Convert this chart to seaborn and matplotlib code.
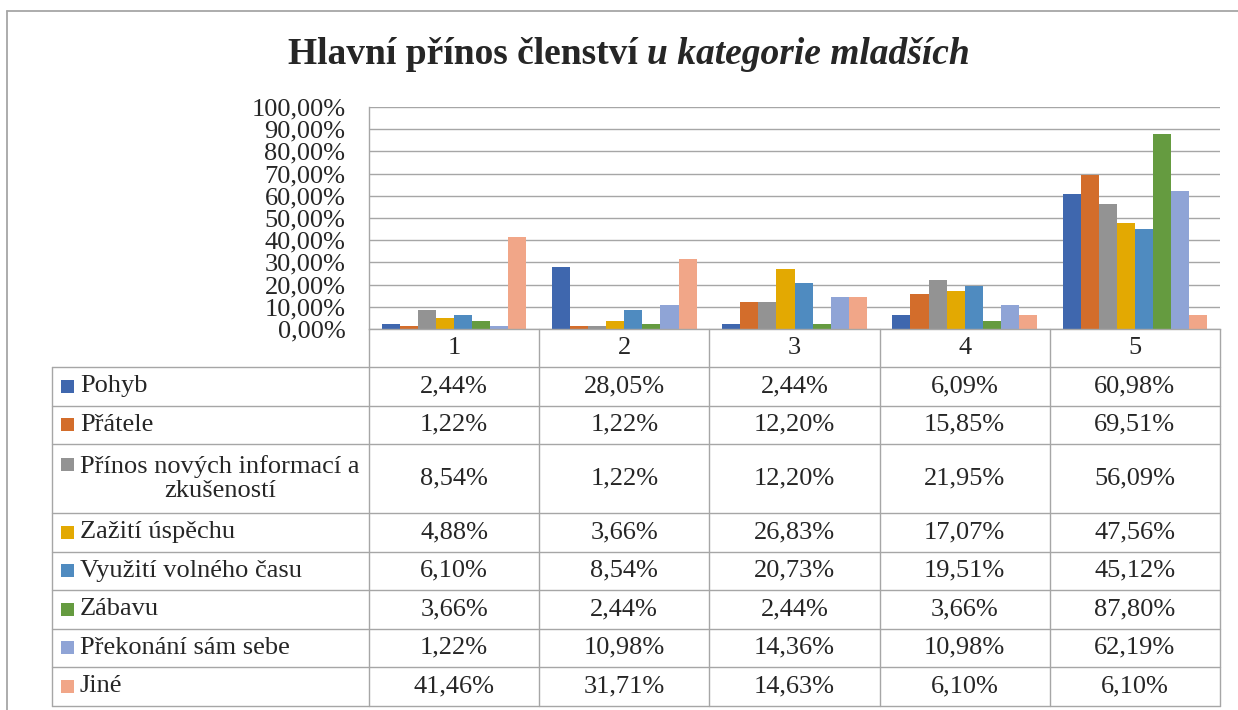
import numpy as np
import pandas as pd
import seaborn as sns
import matplotlib
matplotlib.use("Agg")
import matplotlib.pyplot as plt
from matplotlib.lines import Line2D
from matplotlib.patches import Rectangle
from matplotlib.transforms import blended_transform_factory

# ---------------- data ----------------
categories = ["1", "2", "3", "4", "5"]
series_names = [
    "Pohyb",
    "Přátele",
    "Přínos nových informací a\nzkušeností",
    "Zažití úspěchu",
    "Využití volného času",
    "Zábavu",
    "Překonání sám sebe",
    "Jiné",
]
pohyb = [2.44, 28.05, 2.44, 6.09, 60.98]
pratele = [1.22, 1.22, 12.20, 15.85, 69.51]
prinos = [8.54, 1.22, 12.20, 21.95, 56.09]
zaziti = [4.88, 3.66, 26.83, 17.07, 47.56]
vyuziti = [6.10, 8.54, 20.73, 19.51, 45.12]
zabavu = [3.66, 2.44, 2.44, 3.66, 87.80]
prekonani = [1.22, 10.98, 14.36, 10.98, 62.19]
jine = [41.46, 31.71, 14.63, 6.10, 6.10]
series_values = [pohyb, pratele, prinos, zaziti, vyuziti, zabavu, prekonani, jine]
y_ticks = [0, 10, 20, 30, 40, 50, 60, 70, 80, 90, 100]

colors = ["#3F67AE", "#D36D2B", "#939393", "#E3A902",
          "#4F8BC0", "#659B40", "#8FA4D6", "#F1A688"]
grid_col = "#A6A6A6"

# ---------------- setup ----------------
sns.set_theme(style="white")
plt.rcParams["font.family"] = ["Liberation Serif", "DejaVu Serif"]

W, H = 1238, 710
fig = plt.figure(figsize=(W / 100, H / 100), dpi=100)

def fx(px):
    return px / W

def fy(py):
    return 1 - py / H

ax_left, ax_right, ax_top, ax_bot = 369, 1220, 107, 329
ax = fig.add_axes([fx(ax_left), fy(ax_bot), fx(ax_right - ax_left), (ax_bot - ax_top) / H])

df = pd.DataFrame(
    [(c, s, v) for s, vals in zip(series_names, series_values) for c, v in zip(categories, vals)],
    columns=["cat", "series", "value"],
)
sns.barplot(data=df, x="cat", y="value", hue="series", order=categories,
            hue_order=series_names, palette=colors, width=0.85, gap=0,
            saturation=1, linewidth=0, legend=False, ax=ax)

ax.set_xlim(-0.5, len(categories) - 0.5)
ax.set_ylim(0, 100)
ax.set_yticks(y_ticks)
ax.set_yticklabels([f"{t:.2f}%".replace(".", ",") for t in y_ticks], fontsize=19)
ax.tick_params(axis="y", length=0, pad=17)
ax.set_xticks([])
ax.set_xlabel("")
ax.set_ylabel("")
ax.grid(axis="y", color=grid_col, linewidth=1.0)
ax.set_axisbelow(True)
for s in ["top", "right"]:
    ax.spines[s].set_visible(False)
for s in ["left", "bottom"]:
    ax.spines[s].set_color(grid_col)
    ax.spines[s].set_linewidth(1.0)

# ---------------- data table ----------------
tbl_left = 52
header_top, header_bot = ax_bot, 367
unit = 38.5
row_heights = [unit, unit, 69, unit, unit, unit, unit, unit]
row_edges = [header_bot]
for h in row_heights:
    row_edges.append(row_edges[-1] + h)
tbl_bottom = row_edges[-1]

bt = blended_transform_factory(ax.transData, fig.transFigure)

# vertical lines at category boundaries
for i in range(len(categories) + 1):
    y0 = header_top if i < len(categories) else header_top
    fig.add_artist(Line2D([i - 0.5, i - 0.5], [fy(y0), fy(tbl_bottom)],
                          transform=bt, color=grid_col, lw=1.0))
# left border of table
fig.add_artist(Line2D([fx(tbl_left)] * 2, [fy(header_bot), fy(tbl_bottom)],
                      transform=fig.transFigure, color=grid_col, lw=1.0))
# horizontal lines
for y in row_edges:
    fig.add_artist(Line2D([fx(tbl_left), fx(ax_right)], [fy(y), fy(y)],
                          transform=fig.transFigure, color=grid_col, lw=1.0))

# header numbers
for i, c in enumerate(categories):
    fig.text(i, fy((header_top + header_bot) / 2), c, transform=bt,
             ha="center", va="center", fontsize=19)

# rows
for r, (name, vals, col) in enumerate(zip(series_names, series_values, colors)):
    yc = (row_edges[r] + row_edges[r + 1]) / 2
    n_lines = name.count("\n") + 1
    sq_y = yc - (n_lines - 1) * 14.5
    fig.add_artist(Rectangle((fx(61), fy(sq_y + 6.5)), fx(13), 13 / H,
                             transform=fig.transFigure, color=col, lw=0))
    fig.text(fx(80), fy(yc), name, ha="left", va="center", fontsize=19,
             multialignment="center", linespacing=1.15)
    for i, v in enumerate(vals):
        fig.text(i, fy(yc), f"{v:.2f}%".replace(".", ","), transform=bt,
                 ha="center", va="center", fontsize=19)

# outer chart border
fig.add_artist(Line2D([fx(7), fx(7)], [fy(11), 0], transform=fig.transFigure,
                      color=grid_col, lw=1.3))
fig.add_artist(Line2D([fx(7), 1], [fy(11), fy(11)], transform=fig.transFigure,
                      color=grid_col, lw=1.3))

# ---------------- title ----------------
renderer = fig.canvas.get_renderer()
t1 = fig.text(0, fy(55), "Hlavní přínos členství ", fontsize=27, fontweight="bold",
              ha="left", va="center")
t2 = fig.text(0, fy(55), "u kategorie mladších", fontsize=27, fontweight="bold",
              fontstyle="italic", ha="left", va="center")
w1 = t1.get_window_extent(renderer).width
w2 = t2.get_window_extent(renderer).width
start = 628.5 - (w1 + w2) / 2
t1.set_x(fx(start))
t2.set_x(fx(start + w1))

fig.savefig("out.png", dpi=100)
